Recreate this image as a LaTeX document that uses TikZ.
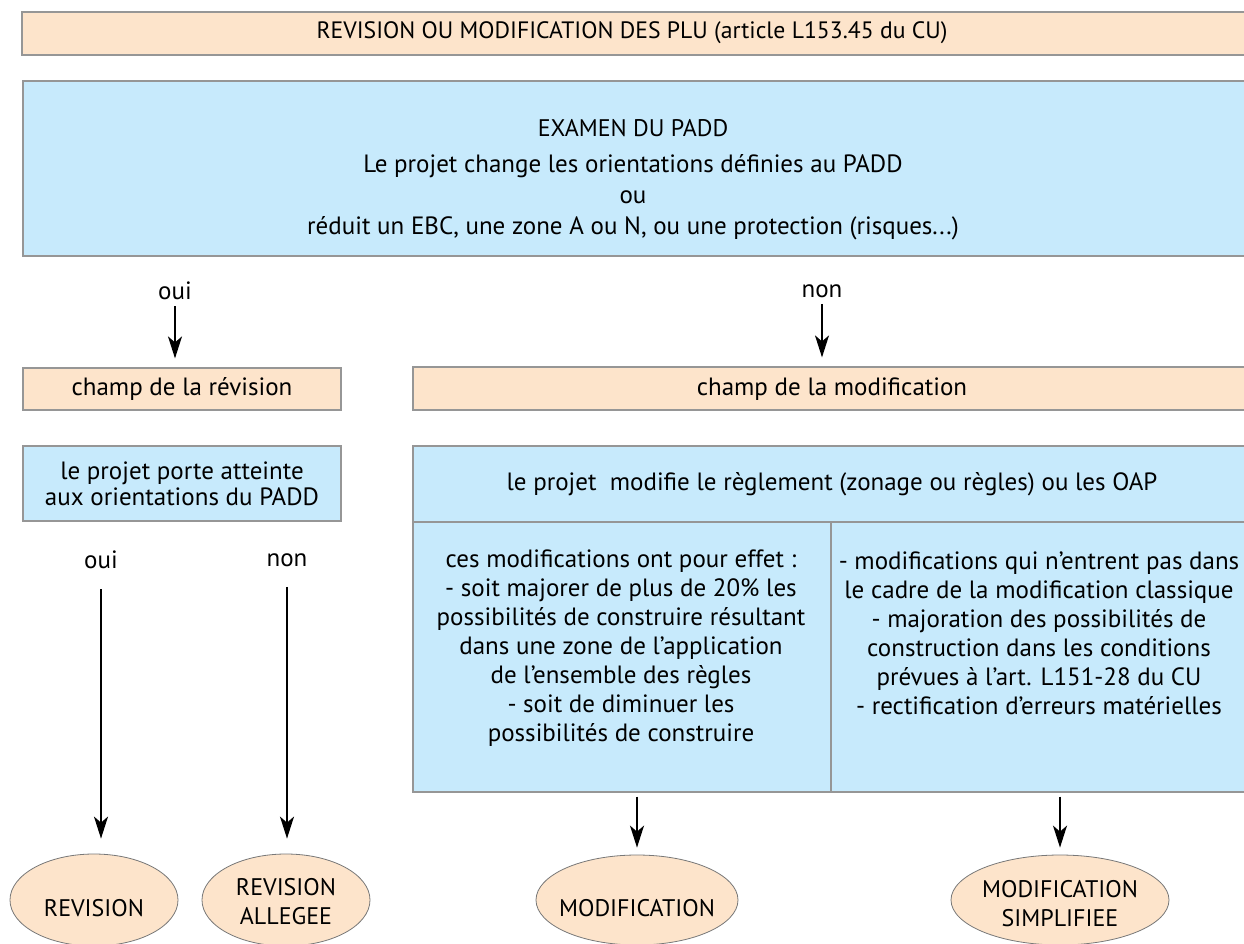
\documentclass[tikz,border=0pt]{standalone}
\usepackage{fontspec}
\setmainfont{PT Sans}
\usetikzlibrary{shapes.geometric,arrows.meta}
\definecolor{peach}{RGB}{253,228,203}
\definecolor{sky}{RGB}{199,234,252}
\definecolor{edge}{RGB}{150,150,150}
\begin{document}
\begin{tikzpicture}[x=1pt,y=-1pt,
  font=\fontsize{25}{29}\selectfont,
  peachbox/.style={draw=edge, fill=peach, line width=1.2pt, inner sep=0pt},
  bluebox/.style={draw=edge, fill=sky, line width=1.2pt, inner sep=0pt},
  oval/.style={ellipse, draw=edge!80!black, fill=peach, line width=0.8pt, inner sep=0pt},
  lbl/.style={inner sep=0pt, align=center},
  caps/.style={font=\fontsize{24}{29}\selectfont},
  arr/.style={-{Stealth[length=22pt,width=14pt,inset=6pt]}, line width=1.7pt}]
\clip (0,0) rectangle (1244,944);
\fill[white] (0,0) rectangle (1244,944);

% title bar
\node[peachbox, minimum width=1228pt, minimum height=43pt] (title) at (636,33.5) {};
\node[lbl, font=\fontsize{23.7}{29}\selectfont] (titletxt) at (632,33) {REVISION OU MODIFICATION DES PLU (article L153.45 du CU)};

% PADD box
\node[bluebox, minimum width=1227pt, minimum height=175pt] (padd) at (636.5,168.5) {};
\node[lbl, caps] (examen) at (633,128) {EXAMEN DU PADD};
\node[lbl, font=\fontsize{25}{31}\selectfont] (paddtxt) at (633,197) {Le projet change les orientations définies au PADD\\ou\\réduit un EBC, une zone A ou N, ou une protection (risques...)};

% oui / non
\node[lbl] (oui1) at (175,291) {oui};
\node[lbl] (non1) at (822,291) {non};

% champ boxes
\node[peachbox, minimum width=318pt, minimum height=42pt] (crev) at (182,389) {champ de la révision};
\node[peachbox, minimum width=837pt, minimum height=43pt] (cmod) at (831.5,388.5) {};
\node[lbl] (cmodtxt) at (832,389) {champ de la modification};

\draw[arr, shorten <=6pt, shorten >=9pt] (oui1.south) -- (oui1.south |- crev.north);
\draw[arr, shorten <=6pt, shorten >=9pt] (non1.south) -- (non1.south |- cmod.north);

% revision branch
\node[peachbox, fill=sky, minimum width=318pt, minimum height=75pt, align=center] (atteinte) at (182,483.5) {le projet porte atteinte\\[-3pt]aux orientations du PADD};
\node[lbl] (oui2) at (101,560) {oui};
\node[lbl] (non2) at (287,560) {non};

% modification box
\node[bluebox, minimum width=837pt, minimum height=346pt] (modbox) at (831.5,619) {};
\coordinate (divL) at (413,522);
\coordinate (divR) at (1250,522);
\coordinate (divT) at (831,522);
\coordinate (divB) at (831,792);
\draw[edge, line width=1.2pt] (divL) -- (divR);
\draw[edge, line width=1.2pt] (divT) -- (divB);
\node[lbl] (regl) at (832,484) {le projet\ \ modifie le règlement (zonage ou règles) ou les OAP};
\node[lbl] (colL) at (621,648) {ces modifications ont pour effet :\\- soit majorer de plus de 20\% les\\possibilités de construire résultant\\dans une zone de l’application\\de l’ensemble des règles\\- soit de diminuer les\\possibilités de construire};
\node[lbl] (colR) at (1039,633.5) {- modifications qui n’entrent pas dans\\le cadre de la modification classique\\- majoration des possibilités de\\construction dans les conditions\\prévues à l’art. L151-28 du CU\\- rectification d’erreurs matérielles};

% ellipses
\node[oval, minimum width=168pt, minimum height=92pt] (rev) at (94,900) {};
\node[lbl, caps] (revtxt) at (94,908) {REVISION};
\node[oval, minimum width=168pt, minimum height=92pt] (reva) at (286,900) {};
\node[lbl, caps] (revatxt) at (286,902) {REVISION\\ALLEGEE};
\node[oval, minimum width=202pt, minimum height=90pt] (mod) at (637,900) {};
\node[lbl, caps] (modtxt) at (637,908) {MODIFICATION};
\node[oval, minimum width=218pt, minimum height=90pt] (mods) at (1060,900) {};
\node[lbl, caps] (modstxt) at (1060,904) {MODIFICATION\\SIMPLIFIEE};

\draw[arr, shorten <=20pt, shorten >=15pt] (oui2.south) -- (oui2.south |- rev.north);
\draw[arr, shorten <=20pt, shorten >=15pt] (non2.south) -- (non2.south |- reva.north);
\draw[arr, shorten <=4pt, shorten >=7pt] (mod.north |- modbox.south) -- (mod.north);
\draw[arr, shorten <=4pt, shorten >=7pt] (mods.north |- modbox.south) -- (mods.north);
\end{tikzpicture}
\end{document}
